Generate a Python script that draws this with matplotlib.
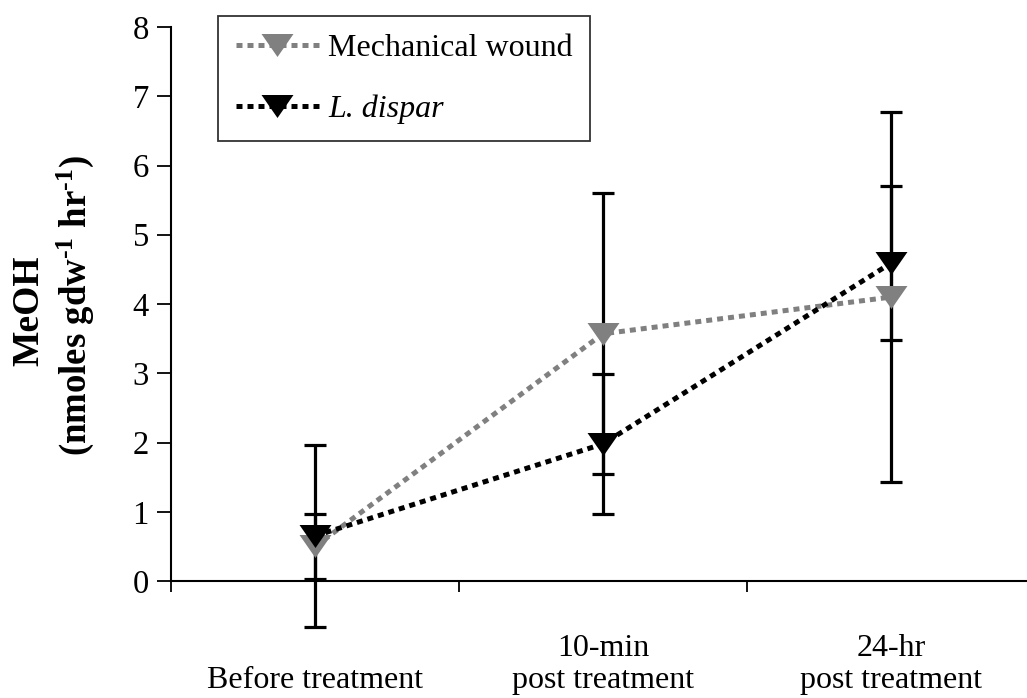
import numpy as np
import matplotlib
matplotlib.use("Agg")
import matplotlib.pyplot as plt

plt.rcParams['font.family'] = ['Liberation Serif', 'DejaVu Serif']
plt.rcParams['mathtext.fontset'] = 'custom'
plt.rcParams['mathtext.rm'] = 'Liberation Serif'
plt.rcParams['mathtext.bf'] = 'Liberation Serif:bold'

# MeOH emission per treatment stage
categories = ["Before treatment", "10-min\npost treatment", "24-hr\npost treatment"]
mech_mean = [0.50, 3.57, 4.10]
mech_err = [0.47, 2.03, 2.67]
dispar_mean = [0.65, 1.98, 4.59]
dispar_err = [1.31, 1.01, 1.11]
yticks = [0, 1, 2, 3, 4, 5, 6, 7, 8]

W, H = 1027, 698
fig = plt.figure(figsize=(W / 100, H / 100), dpi=100)
ax = fig.add_axes([171 / W, (H - 581) / H, 864 / W, 554 / H])

x = np.arange(len(categories)) + 0.5
fs = 23

# squat down-pointing triangle marker
tri = [(-1.0, 0.72), (1.0, 0.72), (0.0, -0.72), (-1.0, 0.72)]

for mean, err, col, lab in [(mech_mean, mech_err, '#808080', 'Mechanical wound'),
                            (dispar_mean, dispar_err, 'black', 'L. dispar')]:
    eb = ax.errorbar(x, mean, yerr=err, fmt='none', ecolor='black', elinewidth=2.3,
                     capsize=8, capthick=2.3, zorder=2)
    for art in eb.lines[1] + eb.lines[2]:
        art.set_clip_on(False)
    ax.plot(x, mean, color=col, linestyle=(0, (1.2, 1.0)), linewidth=3.6,
            dash_capstyle='butt', marker=tri, markersize=23, markerfacecolor=col,
            markeredgecolor=col, markeredgewidth=0, label=lab, zorder=3)

ax.set_xlim(0, 3)
ax.set_ylim(0, 8)
ax.set_yticks(yticks)
ax.set_yticklabels([str(t) for t in yticks], fontsize=23.5)
ax.set_xticks([0, 1, 2, 3])
ax.set_xticklabels([])
ax.set_xticks(x, minor=True)
ax.set_xticklabels(["\n" + c if "\n" not in c else c for c in categories],
                   minor=True, fontsize=fs, linespacing=1.15)
ax.tick_params(axis='x', which='minor', length=0, pad=38)
ax.tick_params(axis='x', which='major', direction='out', length=8, width=1.3)
ax.tick_params(axis='y', direction='out', length=10, width=1.3, pad=6)

for side in ['top', 'right']:
    ax.spines[side].set_visible(False)
for side in ['left', 'bottom']:
    ax.spines[side].set_linewidth(1.5)

fig.text(29 / W, 1 - 311 / H, "MeOH", rotation=90, ha='center', va='center',
         fontsize=27, fontweight='bold')
fig.text(75 / W, 1 - 306 / H, "(nmoles gdw$\\mathbf{^{\u20101}}$ hr$\\mathbf{^{\u20101}}$)",
         rotation=90, ha='center', va='center', fontsize=26.5, fontweight='bold')

leg = ax.legend(loc='upper left', bbox_to_anchor=(218 / W, 1 - 16 / H),
                bbox_transform=fig.transFigure, borderaxespad=0, fontsize=fs,
                numpoints=1, handlelength=2.6, handletextpad=0.3,
                labelspacing=0.98, borderpad=0.55, fancybox=False, frameon=True)
leg.get_frame().set_edgecolor('black')
leg.get_frame().set_linewidth(1.3)
leg.get_texts()[1].set_style('italic')

fig.savefig("out.png", dpi=100)
